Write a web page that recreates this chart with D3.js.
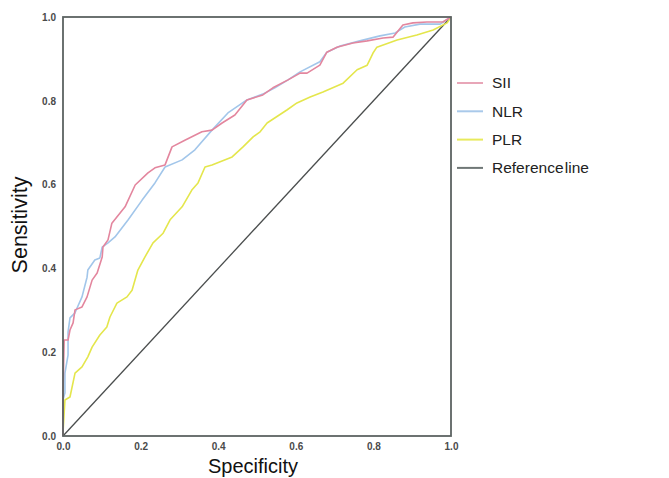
<!DOCTYPE html>
<html>
<head>
<meta charset="utf-8">
<script src="https://cdn.jsdelivr.net/npm/d3@7"></script>
<style>
  body { margin: 0; background: #fff; }
  svg { display: block; font-family: "Liberation Sans", Arial, sans-serif; }
</style>
</head>
<body>
<div id="chart"></div>
<script>
// ROC curves (x = 1 - specificity, y = sensitivity)
const seriesNames = ["SII", "NLR", "PLR", "Reference line"];
const tickValues = [0, 0.2, 0.4, 0.6, 0.8, 1.0];

const siiX = [0, 0, 0.003, 0.013, 0.018, 0.026, 0.031, 0.049, 0.062, 0.075, 0.088, 0.101, 0.103, 0.116, 0.126, 0.160, 0.186, 0.219, 0.237, 0.263, 0.281, 0.314, 0.358, 0.384, 0.410, 0.443, 0.474, 0.515, 0.541, 0.580, 0.611, 0.629, 0.662, 0.680, 0.706, 0.747, 0.784, 0.825, 0.851, 0.876, 0.902, 0.938, 0.979, 1];
const siiY = [0, 0.103, 0.229, 0.229, 0.253, 0.270, 0.301, 0.308, 0.332, 0.372, 0.389, 0.427, 0.451, 0.468, 0.508, 0.547, 0.599, 0.628, 0.640, 0.647, 0.690, 0.706, 0.726, 0.730, 0.747, 0.766, 0.802, 0.814, 0.831, 0.850, 0.866, 0.866, 0.885, 0.916, 0.928, 0.938, 0.943, 0.950, 0.952, 0.981, 0.986, 0.988, 0.988, 1];

const nlrX = [0, 0, 0.005, 0.005, 0.013, 0.013, 0.018, 0.031, 0.036, 0.049, 0.062, 0.064, 0.082, 0.095, 0.101, 0.116, 0.134, 0.168, 0.204, 0.237, 0.263, 0.307, 0.340, 0.384, 0.425, 0.474, 0.515, 0.546, 0.580, 0.611, 0.662, 0.680, 0.714, 0.765, 0.817, 0.856, 0.881, 0.920, 0.972, 1];
const nlrY = [0, 0.086, 0.103, 0.150, 0.193, 0.248, 0.282, 0.294, 0.305, 0.332, 0.379, 0.396, 0.420, 0.425, 0.451, 0.461, 0.475, 0.516, 0.563, 0.604, 0.642, 0.659, 0.683, 0.730, 0.771, 0.802, 0.816, 0.831, 0.850, 0.869, 0.893, 0.916, 0.931, 0.943, 0.955, 0.962, 0.976, 0.983, 0.983, 1];

const plrX = [0, 0, 0.005, 0.018, 0.031, 0.049, 0.064, 0.075, 0.095, 0.113, 0.121, 0.139, 0.165, 0.178, 0.193, 0.211, 0.232, 0.258, 0.276, 0.307, 0.332, 0.348, 0.366, 0.384, 0.436, 0.464, 0.490, 0.508, 0.526, 0.577, 0.603, 0.637, 0.670, 0.722, 0.758, 0.784, 0.799, 0.809, 0.861, 0.912, 0.954, 0.990, 1];
const plrY = [0, 0.008, 0.086, 0.093, 0.150, 0.165, 0.189, 0.212, 0.241, 0.260, 0.284, 0.317, 0.332, 0.348, 0.396, 0.427, 0.461, 0.484, 0.516, 0.547, 0.587, 0.604, 0.642, 0.647, 0.666, 0.690, 0.714, 0.726, 0.747, 0.778, 0.795, 0.809, 0.821, 0.842, 0.874, 0.885, 0.914, 0.928, 0.945, 0.957, 0.969, 0.986, 1];

const refX = [0, 1];
const refY = [0, 1];

const colors = ["#e3869e", "#a2c6ea", "#e4e64c", "#4a4d4d"];
const legendColors = ["#e8a6b8", "#a9c9ea", "#e8ea5c", "#6f7776"];

const width = 669, height = 478;
const margin = { top: 17, left: 63 };
const plotW = 388, plotH = 419;

const svg = d3.select("#chart").append("svg")
  .attr("width", width)
  .attr("height", height);

const x = d3.scaleLinear().domain([0, 1]).range([margin.left, margin.left + plotW]);
const y = d3.scaleLinear().domain([0, 1]).range([margin.top + plotH, margin.top]);

// tick labels only, no tick marks
const xAxis = svg.append("g")
  .attr("transform", `translate(0,${margin.top + plotH})`)
  .call(d3.axisBottom(x).tickValues(tickValues).tickFormat(d3.format(".1f")).tickSize(0).tickPadding(7));
const yAxis = svg.append("g")
  .attr("transform", `translate(${margin.left},0)`)
  .call(d3.axisLeft(y).tickValues(tickValues).tickFormat(d3.format(".1f")).tickSize(0).tickPadding(7));

[xAxis, yAxis].forEach(g => {
  g.select(".domain").remove();
  g.selectAll("text")
    .attr("fill", "#4a4a4a")
    .style("font-size", "10px")
    .style("font-weight", "bold")
    .style("font-family", "'Liberation Sans', Arial, sans-serif");
});

const line = d3.line().x(d => x(d[0])).y(d => y(d[1]));

const series = [
  d3.zip(siiX, siiY),
  d3.zip(nlrX, nlrY),
  d3.zip(plrX, plrY),
  d3.zip(refX, refY)
];

// draw reference first, then PLR, NLR, SII on top
[3, 2, 1, 0].forEach(i => {
  svg.append("path")
    .datum(series[i])
    .attr("d", line)
    .attr("fill", "none")
    .attr("stroke", colors[i])
    .attr("stroke-width", i === 3 ? 1.3 : 1.6)
    .attr("stroke-linejoin", "round");
});

// plot frame
svg.append("rect")
  .attr("x", margin.left)
  .attr("y", margin.top)
  .attr("width", plotW)
  .attr("height", plotH)
  .attr("fill", "none")
  .attr("stroke", "#5c6362")
  .attr("stroke-width", 1.8);

// axis titles
svg.append("text")
  .attr("x", x(0.5) - 4)
  .attr("y", 473)
  .attr("text-anchor", "middle")
  .style("font-size", "20px")
  .attr("fill", "#111")
  .text("Specificity");

svg.append("text")
  .attr("transform", `translate(27,225) rotate(-90)`)
  .attr("text-anchor", "middle")
  .style("font-size", "21.5px")
  .attr("fill", "#111")
  .text("Sensitivity");

// legend
const legend = svg.selectAll(".legend")
  .data(seriesNames)
  .enter().append("g")
  .attr("class", "legend")
  .attr("transform", (d, i) => `translate(457,${83 + i * 28.3})`);

legend.append("line")
  .attr("x1", 0).attr("x2", 26)
  .attr("stroke", (d, i) => legendColors[i])
  .attr("stroke-width", 2);

legend.append("text")
  .attr("x", 35)
  .attr("dy", "0.35em")
  .style("font-size", "15.5px")
  .style("word-spacing", "-3px")
  .attr("fill", "#222")
  .text(d => d);
</script>
</body>
</html>
